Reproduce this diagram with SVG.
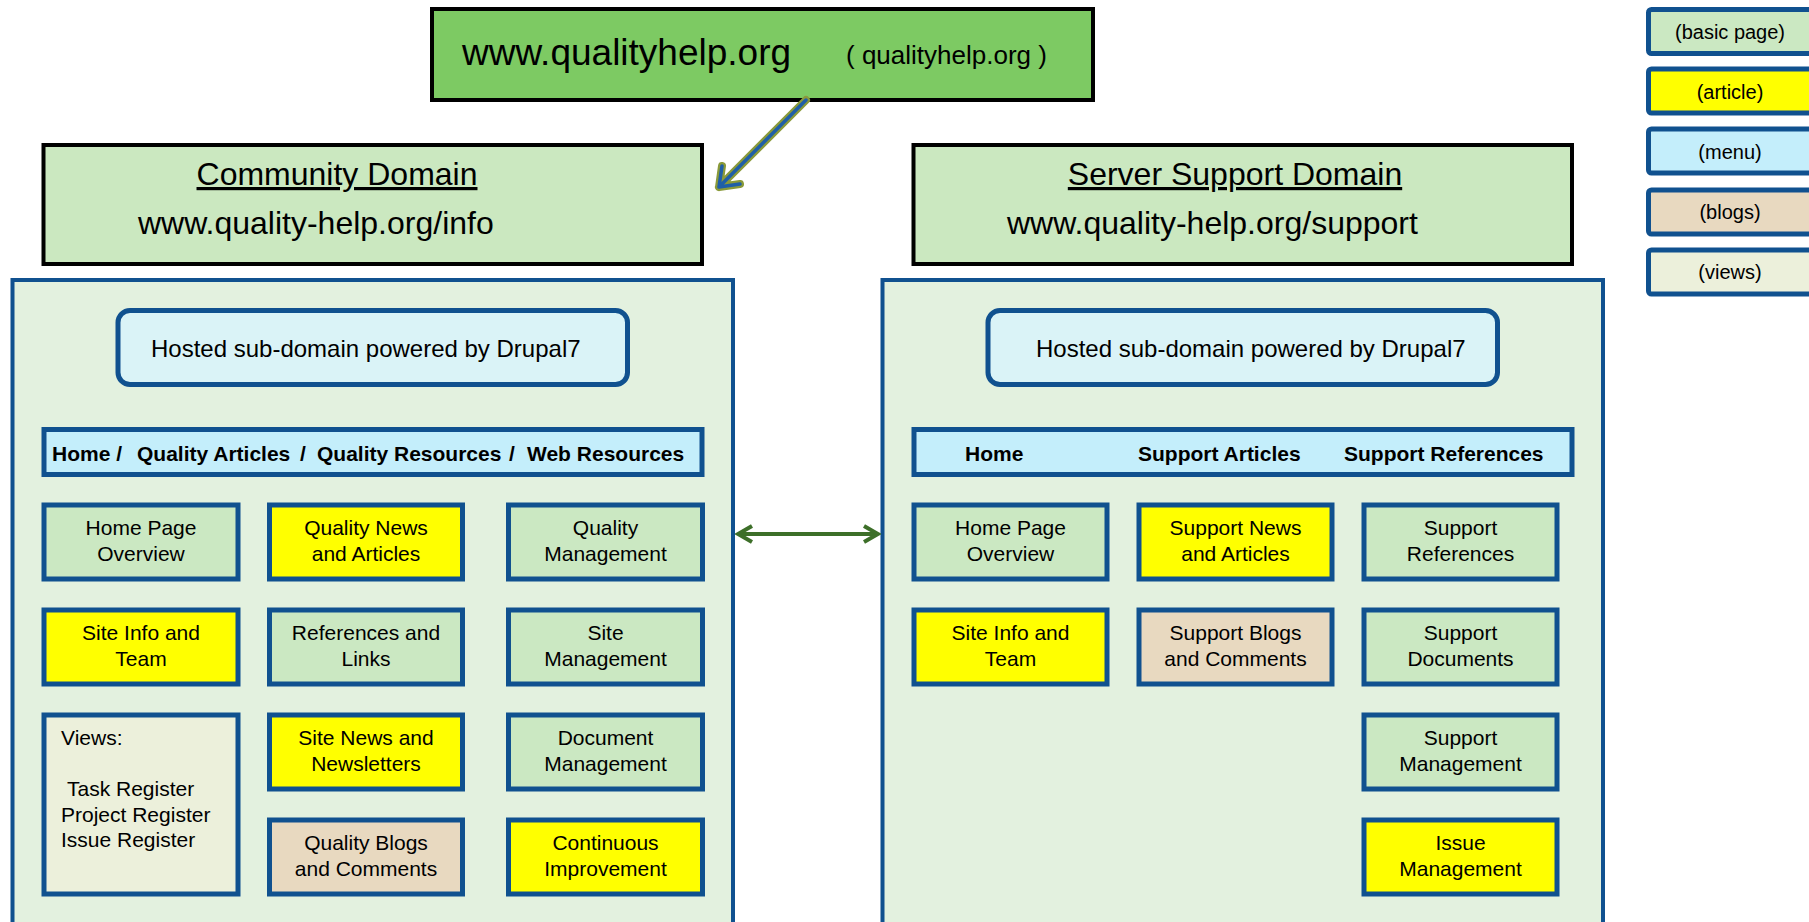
<svg xmlns="http://www.w3.org/2000/svg" width="1809" height="922" viewBox="0 0 1809 922">
<defs>
<style>
text{font-family:"Liberation Sans",Arial,sans-serif;fill:#000}
.node{stroke:#10518F;stroke-width:5}
.basic{fill:#CBE8C2}
.article{fill:#FFFF00}
.menu{fill:#C4EEFB}
.blog{fill:#E8D9C0}
.views{fill:#ECF0DB}
.domain{fill:#CBE8C0;stroke:#000;stroke-width:4}
.cont{fill:#E3F1DF;stroke:#10518F;stroke-width:4}
.host{fill:#DAF3F7;stroke:#10518F;stroke-width:5}
.t21{font-size:21px;text-anchor:middle}
.mb{font-size:21px;font-weight:bold}
.lg{font-size:20px;text-anchor:middle}
</style>
<marker id="dh" viewBox="0 0 20 20" refX="17" refY="10" markerWidth="20" markerHeight="20" markerUnits="userSpaceOnUse" orient="auto-start-reverse">
<path d="M3,2 L17,10 L3,18" fill="none" stroke="#3D6F29" stroke-width="4" stroke-linejoin="miter"/>
</marker>
</defs>
<rect width="1809" height="922" fill="#fff"/>

<g id="legend">
<rect class="node basic" x="1648.5" y="9.5" width="200" height="44" rx="3"/>
<text class="lg" x="1730" y="38.5">(basic page)</text>
<rect class="node article" x="1648.5" y="69" width="200" height="44" rx="3"/>
<text class="lg" x="1730" y="98.5">(article)</text>
<rect class="node menu" x="1648.5" y="129" width="200" height="44" rx="3"/>
<text class="lg" x="1730" y="158.5">(menu)</text>
<rect class="node blog" x="1648.5" y="190" width="200" height="44" rx="3"/>
<text class="lg" x="1730" y="219">(blogs)</text>
<rect class="node views" x="1648.5" y="250" width="200" height="44" rx="3"/>
<text class="lg" x="1730" y="279">(views)</text>
</g>

<g id="top">
<rect x="432" y="9" width="661" height="91" fill="#7DCA63" stroke="#000" stroke-width="4"/>
<text x="462" y="65" font-size="37">www.qualityhelp.org</text>
<text x="846" y="64" font-size="26">( qualityhelp.org )</text>
</g>

<g id="community-domain">
<rect class="domain" x="43.5" y="145" width="658.5" height="119"/>
<text x="337" y="185" font-size="32" text-anchor="middle" text-decoration="underline">Community Domain</text>
<text x="138" y="234" font-size="32">www.quality-help.org/info</text>
</g>

<g id="support-domain">
<rect class="domain" x="913.5" y="145" width="658.5" height="119"/>
<text x="1235" y="185" font-size="32" text-anchor="middle" text-decoration="underline">Server Support Domain</text>
<text x="1007" y="234" font-size="32">www.quality-help.org/support</text>
</g>

<g id="community-container">
<rect class="cont" x="12.5" y="280" width="720.5" height="700"/>
</g>
<g id="support-container">
<rect class="cont" x="882.5" y="280" width="720.5" height="700"/>
</g>

<g id="community-hosted">
<rect class="host" x="118" y="310.5" width="509.5" height="74" rx="12"/>
<text x="151" y="357" font-size="24">Hosted sub-domain powered by Drupal7</text>
</g>
<g id="support-hosted">
<rect class="host" x="988" y="310.5" width="509.5" height="74" rx="12"/>
<text x="1036" y="357" font-size="24">Hosted sub-domain powered by Drupal7</text>
</g>

<g id="community-menu">
<rect class="node menu" x="44" y="429.5" width="658" height="45"/>
<text class="mb" x="52" y="461">Home /</text>
<text class="mb" x="137" y="461">Quality Articles</text>
<text class="mb" x="300" y="461">/</text>
<text class="mb" x="317" y="461">Quality Resources</text>
<text class="mb" x="509" y="461">/</text>
<text class="mb" x="527" y="461">Web Resources</text>
</g>
<g id="support-menu">
<rect class="node menu" x="914" y="429.5" width="658" height="45"/>
<text class="mb" x="965" y="461">Home</text>
<text class="mb" x="1138" y="461">Support Articles</text>
<text class="mb" x="1344" y="461">Support References</text>
</g>

<!-- Community nodes -->
<g id="c-home"><rect class="node basic" x="44" y="505" width="194" height="74"/>
<text class="t21" x="141" y="535">Home Page</text><text class="t21" x="141" y="560.5">Overview</text></g>
<g id="c-qnews"><rect class="node article" x="269.5" y="505" width="193" height="74"/>
<text class="t21" x="366" y="535">Quality News</text><text class="t21" x="366" y="560.5">and Articles</text></g>
<g id="c-qmgmt"><rect class="node basic" x="508.5" y="505" width="194" height="74"/>
<text class="t21" x="605.5" y="535">Quality</text><text class="t21" x="605.5" y="560.5">Management</text></g>

<g id="c-siteinfo"><rect class="node article" x="44" y="610" width="194" height="74"/>
<text class="t21" x="141" y="640">Site Info and</text><text class="t21" x="141" y="665.5">Team</text></g>
<g id="c-refs"><rect class="node basic" x="269.5" y="610" width="193" height="74"/>
<text class="t21" x="366" y="640">References and</text><text class="t21" x="366" y="665.5">Links</text></g>
<g id="c-sitemgmt"><rect class="node basic" x="508.5" y="610" width="194" height="74"/>
<text class="t21" x="605.5" y="640">Site</text><text class="t21" x="605.5" y="665.5">Management</text></g>

<g id="c-views"><rect class="node views" x="44" y="715" width="194" height="179"/>
<text font-size="21" x="61" y="745">Views:</text>
<text font-size="21" x="67" y="796">Task Register</text>
<text font-size="21" x="61" y="821.5">Project Register</text>
<text font-size="21" x="61" y="846.5">Issue Register</text></g>
<g id="c-sitenews"><rect class="node article" x="269.5" y="715" width="193" height="74"/>
<text class="t21" x="366" y="745">Site News and</text><text class="t21" x="366" y="770.5">Newsletters</text></g>
<g id="c-docmgmt"><rect class="node basic" x="508.5" y="715" width="194" height="74"/>
<text class="t21" x="605.5" y="745">Document</text><text class="t21" x="605.5" y="770.5">Management</text></g>

<g id="c-blogs"><rect class="node blog" x="269.5" y="820" width="193" height="74"/>
<text class="t21" x="366" y="850">Quality Blogs</text><text class="t21" x="366" y="875.5">and Comments</text></g>
<g id="c-ci"><rect class="node article" x="508.5" y="820" width="194" height="74"/>
<text class="t21" x="605.5" y="850">Continuous</text><text class="t21" x="605.5" y="875.5">Improvement</text></g>

<!-- Support nodes -->
<g id="s-home"><rect class="node basic" x="914" y="505" width="193" height="74"/>
<text class="t21" x="1010.5" y="535">Home Page</text><text class="t21" x="1010.5" y="560.5">Overview</text></g>
<g id="s-news"><rect class="node article" x="1139" y="505" width="193" height="74"/>
<text class="t21" x="1235.5" y="535">Support News</text><text class="t21" x="1235.5" y="560.5">and Articles</text></g>
<g id="s-refs"><rect class="node basic" x="1364" y="505" width="193" height="74"/>
<text class="t21" x="1460.5" y="535">Support</text><text class="t21" x="1460.5" y="560.5">References</text></g>

<g id="s-siteinfo"><rect class="node article" x="914" y="610" width="193" height="74"/>
<text class="t21" x="1010.5" y="640">Site Info and</text><text class="t21" x="1010.5" y="665.5">Team</text></g>
<g id="s-blogs"><rect class="node blog" x="1139" y="610" width="193" height="74"/>
<text class="t21" x="1235.5" y="640">Support Blogs</text><text class="t21" x="1235.5" y="665.5">and Comments</text></g>
<g id="s-docs"><rect class="node basic" x="1364" y="610" width="193" height="74"/>
<text class="t21" x="1460.5" y="640">Support</text><text class="t21" x="1460.5" y="665.5">Documents</text></g>

<g id="s-mgmt"><rect class="node basic" x="1364" y="715" width="193" height="74"/>
<text class="t21" x="1460.5" y="745">Support</text><text class="t21" x="1460.5" y="770.5">Management</text></g>
<g id="s-issue"><rect class="node article" x="1364" y="820" width="193" height="74"/>
<text class="t21" x="1460.5" y="850">Issue</text><text class="t21" x="1460.5" y="875.5">Management</text></g>

<g id="connectors">
<path d="M806,100 L719,187 M740,184 L719,187 L722,166" fill="none" stroke="#8A9A3A" stroke-width="8" stroke-linecap="round" stroke-linejoin="round"/>
<path d="M806,100 L719,187 M740,184 L719,187 L722,166" fill="none" stroke="#1F5FA8" stroke-width="3.5" stroke-linecap="round" stroke-linejoin="round"/>
<line x1="738" y1="534" x2="878" y2="534" stroke="#3D6F29" stroke-width="4" marker-start="url(#dh)" marker-end="url(#dh)"/>
</g>
</svg>
